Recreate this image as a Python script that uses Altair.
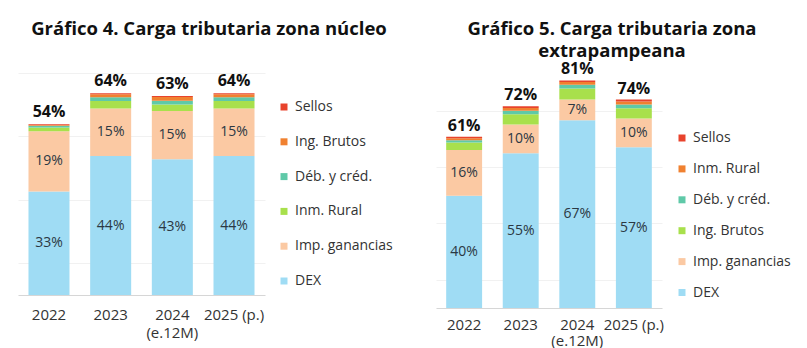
import altair as alt
import pandas as pd

years = ["2022", "2023", "2024 (e.12M)", "2025 (p.)"]

# ---- Gráfico 4: zona núcleo (stack bottom -> top)
n_series = ["DEX", "Imp. ganancias", "Inm. Rural", "Déb. y créd.", "Ing. Brutos", "Sellos"]
n_dex = [32.6, 43.8, 42.8, 43.8]
n_gan = [19.0, 15.0, 15.2, 15.0]
n_inm = [1.2, 2.3, 2.0, 2.3]
n_deb = [0.5, 1.2, 1.2, 1.2]
n_ing = [0.3, 1.0, 1.2, 1.0]
n_sel = [0.2, 0.3, 0.3, 0.3]
n_dex_lbl = ["33%", "44%", "43%", "44%"]
n_gan_lbl = ["19%", "15%", "15%", "15%"]
n_tot_lbl = ["54%", "64%", "63%", "64%"]

# ---- Gráfico 5: zona extrapampeana (stack bottom -> top)
e_series = ["DEX", "Imp. ganancias", "Ing. Brutos", "Déb. y créd.", "Inm. Rural", "Sellos"]
e_dex = [39.8, 54.9, 66.6, 57.0]
e_gan = [16.2, 10.2, 7.3, 10.2]
e_ing = [2.7, 3.6, 3.9, 3.6]
e_deb = [0.8, 1.2, 1.4, 1.4]
e_inm = [0.7, 1.0, 0.9, 1.0]
e_sel = [0.5, 0.6, 0.6, 0.7]
e_dex_lbl = ["40%", "55%", "67%", "57%"]
e_gan_lbl = ["16%", "10%", "7%", "10%"]
e_tot_lbl = ["61%", "72%", "81%", "74%"]

stack_colors = ["#9fdcf4", "#fbc9a3", "#a8e04c", "#5fc9a8", "#f08130", "#e8432c"]
FONT = "Open Sans"


def long_df(series, cols):
    rows = []
    for k, (s, vals) in enumerate(zip(series, cols)):
        for y, v in zip(years, vals):
            rows.append({"year": y, "serie": s, "value": v, "ord": k})
    return pd.DataFrame(rows)


def label_df(dex, gan, dl, gl, totals, tl):
    rows = []
    for i, y in enumerate(years):
        rows.append({"year": y, "pos": dex[i] / 2, "txt": dl[i]})
        rows.append({"year": y, "pos": dex[i] + gan[i] / 2, "txt": gl[i]})
    tot = pd.DataFrame({"year": years, "tot": totals, "txt": tl})
    return pd.DataFrame(rows), tot


def panel(series, cols, dex, gan, dl, gl, tl, title_lines, width, height, ymax,
          pin, pout, lx, ly, rowpad, label_pad, line_h, title_x, title_y, tot_dy):
    df = long_df(series, cols)
    totals = [round(sum(c[i] for c in cols), 2) for i in range(len(years))]
    inner, tot = label_df(dex, gan, dl, gl, totals, tl)
    legend_order = list(reversed(series))
    legend_colors = list(reversed(stack_colors))
    xenc = alt.X("year:N", sort=years,
                 scale=alt.Scale(paddingInner=pin, paddingOuter=pout),
                 axis=alt.Axis(title=None, labelAngle=0, ticks=False,
                               domainColor="#d6d6d6", domainWidth=1.2,
                               labelFont=FONT, labelFontSize=15, labelColor="#333333",
                               labelPadding=label_pad, labelLineHeight=line_h,
                               labelExpr="split(replace(datum.label, ' (e', '|(e'), '|')"))
    yscale = alt.Scale(domain=[0, ymax], nice=False)
    bars = alt.Chart(df).mark_bar().encode(
        x=xenc,
        y=alt.Y("value:Q", stack="zero", scale=yscale,
                axis=alt.Axis(title=None, labels=False, ticks=False, domain=False,
                              grid=True, gridColor="#f1f1f1",
                              values=list(range(10, int(ymax) + 1, 10)))),
        color=alt.Color("serie:N",
                        scale=alt.Scale(domain=legend_order, range=legend_colors),
                        legend=alt.Legend(title=None, orient="none", legendX=lx, legendY=ly,
                                          symbolType="square", symbolSize=49,
                                          symbolStrokeWidth=0, labelFont=FONT,
                                          labelFontSize=14, labelColor="#333333",
                                          rowPadding=rowpad, padding=0, labelOffset=4)),
        order=alt.Order("ord:Q", sort="ascending"),
    )
    inner_t = alt.Chart(inner).mark_text(font=FONT, fontSize=14, color="#2b3843").encode(
        x=alt.X("year:N", sort=years),
        y=alt.Y("pos:Q", scale=yscale),
        text="txt:N",
    )
    tot_t = alt.Chart(tot).mark_text(font=FONT, fontSize=16, fontWeight="bold",
                                     color="#111111", dy=tot_dy).encode(
        x=alt.X("year:N", sort=years),
        y=alt.Y("tot:Q", scale=yscale),
        text="txt:N",
    )
    layers = [bars, inner_t, tot_t]
    for j, line in enumerate(title_lines):
        layers.append(
            alt.Chart(pd.DataFrame({"t": [line]})).mark_text(
                font=FONT, fontSize=18.5, fontWeight="bold", color="#111111",
                baseline="top", align="center").encode(
                text="t:N", x=alt.value(title_x), y=alt.value(title_y + 22 * j))
        )
    return alt.layer(*layers).properties(width=width, height=height)


c1 = panel(n_series, [n_dex, n_gan, n_inm, n_deb, n_ing, n_sel], n_dex, n_gan,
           n_dex_lbl, n_gan_lbl, n_tot_lbl,
           ["Gráfico 4. Carga tributaria zona núcleo"],
           width=247, height=238, ymax=75, pin=0.335, pout=0.17,
           lx=259, ly=43, rowpad=20.8, label_pad=12, line_h=18,
           title_x=191, title_y=-37, tot_dy=-12)

c2 = panel(e_series, [e_dex, e_gan, e_ing, e_deb, e_inm, e_sel], e_dex, e_gan,
           e_dex_lbl, e_gan_lbl, e_tot_lbl,
           ["Gráfico 5. Carga tributaria zona", "extrapampeana"],
           width=226, height=251, ymax=89, pin=0.365, pout=0.18,
           lx=239, ly=74, rowpad=16.9, label_pad=9, line_h=16,
           title_x=176, title_y=-37, tot_dy=-11)

chart = alt.hconcat(c1, c2, spacing=43).resolve_scale(
    color="independent", x="independent", y="independent"
).properties(
    padding={"left": 18, "top": 20, "right": 5, "bottom": 0},
    background="white",
).configure_view(stroke=None)

chart.save("out.html", embed_options={"renderer": "svg", "actions": False})
